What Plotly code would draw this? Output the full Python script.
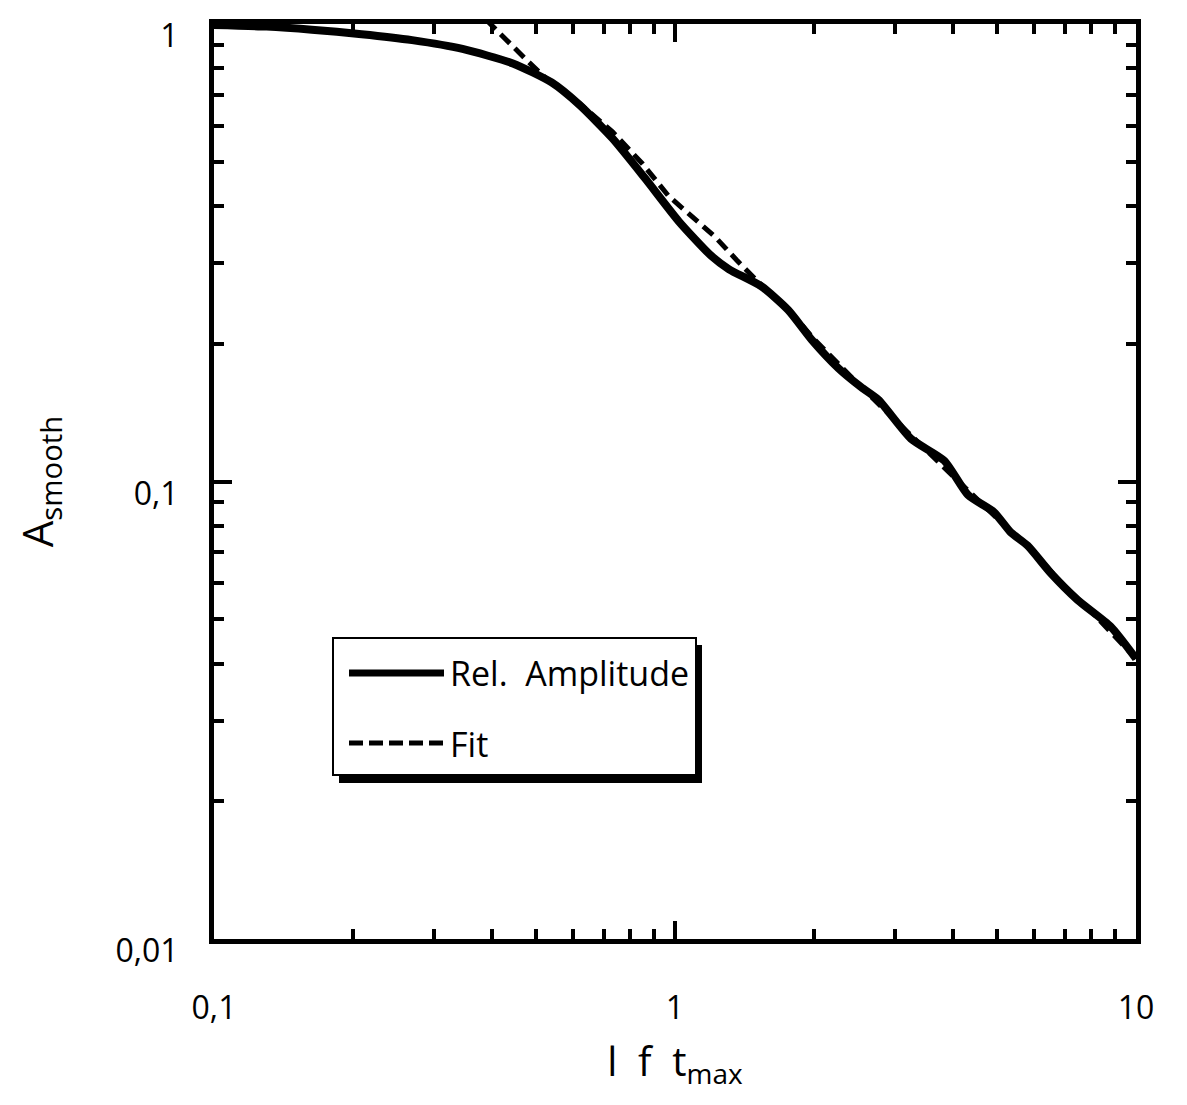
import plotly.graph_objects as go

# ---- data ----
amp_x = [0.1, 0.13, 0.163, 0.209, 0.269, 0.346, 0.445, 0.54, 0.621, 0.731, 0.861, 1.02, 1.20, 1.31,
         1.54, 1.76, 1.98, 2.26, 2.53, 2.76, 3.25, 3.84, 4.32, 4.92, 5.35, 5.82, 6.53, 7.47, 8.81, 10.0]
amp_y = [0.995, 0.987, 0.972, 0.950, 0.922, 0.882, 0.820, 0.745, 0.665, 0.563, 0.460, 0.370, 0.311,
         0.291, 0.267, 0.237, 0.204, 0.177, 0.161, 0.151, 0.124, 0.111, 0.0935, 0.0857, 0.0774,
         0.0724, 0.0631, 0.0551, 0.0482, 0.041]

fit_x = [0.39, 0.434, 0.480, 0.531, 0.621, 0.731, 0.85, 0.97, 1.09, 1.22, 1.36, 1.51, 1.75, 2.0,
         2.5, 3.0, 4.0, 5.0, 6.0, 7.0, 8.0, 10.0]
fit_y = [1.02, 0.914, 0.828, 0.752, 0.670, 0.582, 0.495, 0.420, 0.380, 0.343, 0.305, 0.274, 0.240,
         0.205, 0.163, 0.136, 0.103, 0.083, 0.070, 0.059, 0.052, 0.041]

x_major = [0.1, 1, 10]
x_major_text = ["0,1", "1", "10"]
y_major = [0.01, 0.1, 1]
y_major_text = ["0,01", "0,1", "1"]
minor_vals = [m * 10.0 ** e for e in (-2, -1, 0) for m in range(2, 10)]

FONT = "Open Sans"
W, H = 1187, 1105
ML, MR, MT, MB = 206, 59, 16, 174
PW, PH = W - ML - MR, H - MT - MB


def px(x):
    return (x - ML) / PW


def py(y):
    return (H - MB - y) / PH


fig = go.Figure()
fig.add_trace(go.Scatter(x=fit_x, y=fit_y, mode="lines", name="Fit",
                         line=dict(color="black", width=5, dash="13px,7px"), showlegend=False))
fig.add_trace(go.Scatter(x=amp_x, y=amp_y, mode="lines", name="Rel.  Amplitude",
                         line=dict(color="black", width=8, shape="spline", smoothing=0.6),
                         showlegend=False))

axis_common = dict(
    type="log", showgrid=False, zeroline=False, showline=True, linecolor="black", linewidth=5,
    mirror="allticks", ticks="inside", ticklen=18, tickwidth=4, tickcolor="black",
    tickfont=dict(family=FONT, size=32, color="black"),
    minor=dict(tickmode="array", tickvals=minor_vals, ticks="inside", ticklen=10,
               tickwidth=4, tickcolor="black", showgrid=False),
    automargin=False,
)

fig.update_xaxes(**axis_common, range=[-1, 1], tickmode="array", tickvals=x_major,
                 ticktext=x_major_text, ticklabelstandoff=37,
                 title=dict(text="l\u00a0 f\u00a0 t<sub>max</sub>",
                            font=dict(family=FONT, size=40, color="black"), standoff=22))
fig.update_yaxes(**axis_common, range=[-2, 0], tickmode="array", tickvals=y_major,
                 ticktext=y_major_text, ticklabelstandoff=24, ticklabelshift=12,
                 title=dict(text="A<sub>smooth</sub>", font=dict(family=FONT, size=42, color="black"),
                            standoff=52))

# legend drawn as a shadowed box
lx0, lx1, ly0, ly1 = 325, 688, 630, 767
shapes = [
    dict(type="rect", xref="paper", yref="paper", x0=px(lx0 + 6), x1=px(lx1 + 6),
         y0=py(ly1 + 8), y1=py(ly0 + 7), fillcolor="black", line=dict(width=0)),
    dict(type="rect", xref="paper", yref="paper", x0=px(lx0), x1=px(lx1),
         y0=py(ly1), y1=py(ly0), fillcolor="white", line=dict(color="black", width=2)),
    dict(type="line", xref="paper", yref="paper", x0=px(341), x1=px(436), y0=py(665), y1=py(665),
         line=dict(color="black", width=7)),
    dict(type="line", xref="paper", yref="paper", x0=px(341), x1=px(436), y0=py(735), y1=py(735),
         line=dict(color="black", width=5, dash="14px,6px")),
]
annotations = [
    dict(xref="paper", yref="paper", x=px(440), y=py(665), text="Rel.\u00a0 Amplitude",
         showarrow=False, xanchor="left", yanchor="middle",
         font=dict(family=FONT, size=34, color="black")),
    dict(xref="paper", yref="paper", x=px(440), y=py(736), text="Fit",
         showarrow=False, xanchor="left", yanchor="middle",
         font=dict(family=FONT, size=34, color="black")),
]

fig.update_layout(
    width=W, height=H, margin=dict(l=ML, r=MR, t=MT, b=MB),
    paper_bgcolor="white", plot_bgcolor="white",
    shapes=shapes, annotations=annotations, showlegend=False,
)

fig.write_html("out.html")
